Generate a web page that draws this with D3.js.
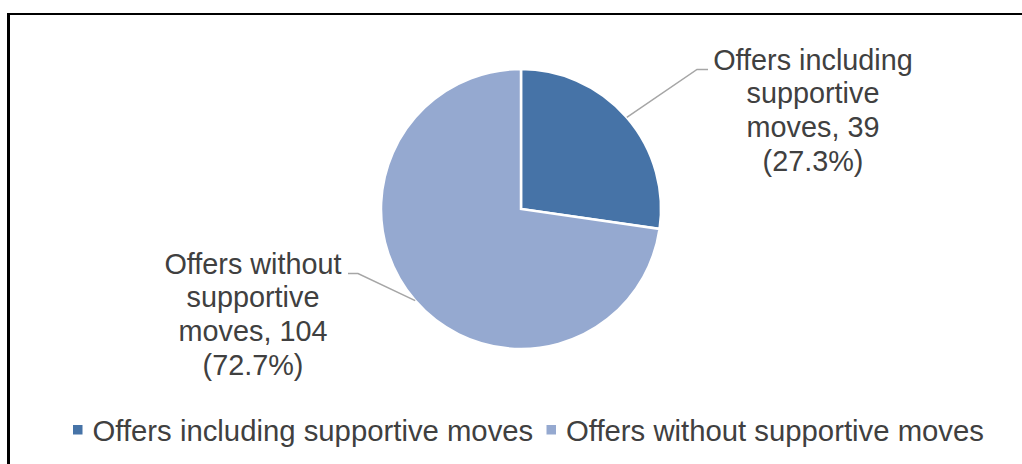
<!DOCTYPE html>
<html>
<head>
<meta charset="utf-8">
<script src="https://cdn.jsdelivr.net/npm/d3@7"></script>
<style>
  html, body { margin: 0; padding: 0; background: #fff; }
  svg { display: block; }
  text { font-family: "Liberation Sans", Arial, sans-serif; fill: #404040; }
</style>
</head>
<body>
<svg id="chart" width="1022" height="464"></svg>
<script>
const categories = ["Offers including supportive moves", "Offers without supportive moves"];
const values = [39, 104];
const percentLabels = ["27.3%", "72.7%"];
const labelLines = [
  ["Offers including", "supportive", "moves, 39", "(27.3%)"],
  ["Offers without", "supportive", "moves, 104", "(72.7%)"]
];
const colors = ["#4673A7", "#95A9D0"];

const svg = d3.select("#chart");
const W = 1022, H = 464;

// frame (top and left edges visible)
svg.append("line").attr("x1", 8.5).attr("x2", W).attr("y1", 14).attr("y2", 14)
  .attr("stroke", "#000").attr("stroke-width", 2);
svg.append("line").attr("x1", 8.5).attr("x2", 8.5).attr("y1", 13).attr("y2", H)
  .attr("stroke", "#000").attr("stroke-width", 3);

const cx = 521, cy = 209, R = 140;
const color = d3.scaleOrdinal().domain(categories).range(colors);

const pie = d3.pie().sort(null).value(d => d.value);
const data = categories.map((c, i) => ({ name: c, value: values[i], lines: labelLines[i] }));
const arcs = pie(data);
const arc = d3.arc().innerRadius(0).outerRadius(R);

const g = svg.append("g").attr("transform", `translate(${cx},${cy})`);
g.selectAll("path.slice").data(arcs).enter().append("path")
  .attr("class", "slice")
  .attr("d", arc)
  .attr("fill", d => color(d.data.name))
  .attr("stroke", "#fff")
  .attr("stroke-width", 2.5)
  .attr("stroke-linejoin", "miter");

const labelPos = [
  { x: 813, y: 69.5, elbow: [697, 69.5], end: [708, 69.5] },
  { x: 253, y: 273.5, elbow: [358, 273.5], end: [348, 273.5] }
];

arcs.forEach((a, i) => {
  const mid = (a.startAngle + a.endAngle) / 2;
  const px = cx + R * Math.sin(mid), py = cy - R * Math.cos(mid);
  const lp = labelPos[i];
  svg.append("polyline")
    .attr("points", [[px, py], lp.elbow, lp.end].map(p => p.join(",")).join(" "))
    .attr("fill", "none").attr("stroke", "#A6A6A6").attr("stroke-width", 1.5);
  const t = svg.append("text").attr("text-anchor", "middle")
    .attr("font-size", 28.8);
  a.data.lines.forEach((ln, j) => {
    t.append("tspan").attr("x", lp.x).attr("y", lp.y + j * 33.8).text(ln);
  });
});

// legend
const legend = [
  { sx: 73, tx: 92.5 },
  { sx: 546.5, tx: 566 }
];
categories.forEach((c, i) => {
  const L = legend[i];
  svg.append("rect").attr("x", L.sx).attr("y", 425).attr("width", 9.5).attr("height", 9.5)
    .attr("fill", color(c));
  svg.append("text").attr("x", L.tx).attr("y", 440.5)
    .attr("font-size", 29.3)
    .text(c);
});
</script>
</body>
</html>
